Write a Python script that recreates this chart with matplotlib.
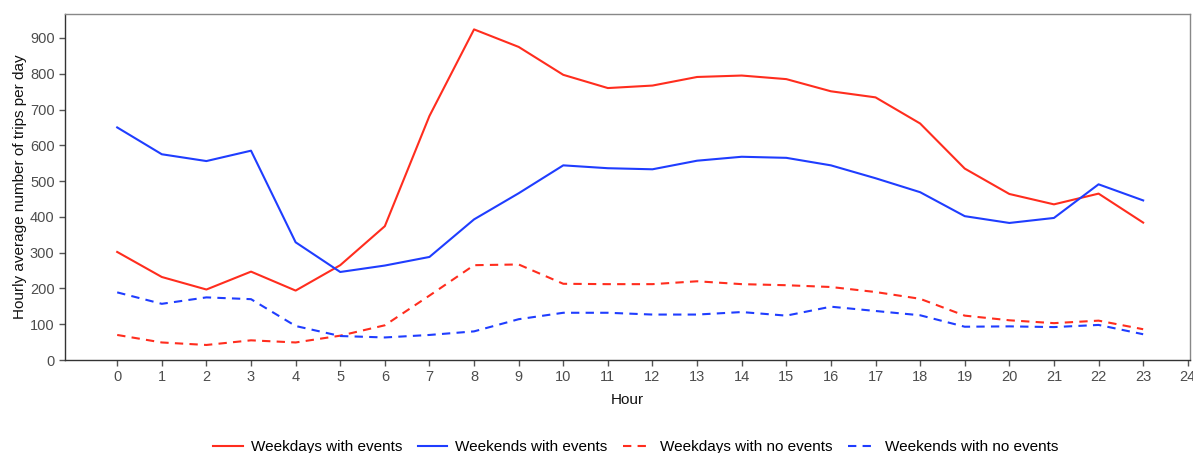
import matplotlib
matplotlib.use("Agg")
import matplotlib.pyplot as plt

hours = list(range(24))
weekdays_events = [302, 232, 197, 247, 194, 265, 374, 682, 924, 875, 797, 760,
                   767, 791, 795, 785, 751, 734, 661, 535, 464, 435, 465, 384]
weekends_events = [650, 575, 556, 585, 329, 246, 264, 288, 393, 466, 544, 536,
                   533, 557, 568, 565, 544, 508, 469, 402, 383, 397, 491, 446]
weekdays_noevents = [70, 49, 42, 55, 49, 68, 97, 180, 265, 267, 213, 212,
                     212, 220, 212, 209, 204, 190, 171, 124, 111, 103, 110, 86]
weekends_noevents = [189, 157, 175, 170, 95, 67, 63, 70, 80, 114, 132, 132,
                     127, 127, 134, 124, 149, 137, 125, 93, 94, 92, 98, 72]
labels = ["Weekdays with events", "Weekends with events",
          "Weekdays with no events", "Weekends with no events"]
xticks = list(range(25))
yticks = list(range(0, 1000, 100))

plt.rcParams['font.family'] = ['Liberation Sans', 'DejaVu Sans']

RED = '#ff2d1e'
BLUE = '#1f3dff'
fig = plt.figure(figsize=(11.93, 4.53), dpi=100)
ax = fig.add_axes([65/1193, 1-360/453, (1190-65)/1193, (360-14)/453])

ax.plot(hours, weekdays_events, color=RED, lw=1.5, label=labels[0])
ax.plot(hours, weekends_events, color=BLUE, lw=1.5, label=labels[1])
ax.plot(hours, weekdays_noevents, color=RED, lw=1.5, ls=(0, (4, 3)), label=labels[2])
ax.plot(hours, weekends_noevents, color=BLUE, lw=1.5, ls=(0, (4, 3)), label=labels[3])

ax.set_xlim(-1.17, 24.05)
ax.set_ylim(0, 967)
ax.set_xticks(xticks)
ax.set_yticks(yticks)
ax.tick_params(axis='both', direction='out', length=4, width=1, colors='#555555',
               labelsize=10.5, labelcolor='#4d4d4d')
for s in ['left', 'bottom']:
    ax.spines[s].set_color('#333333')
    ax.spines[s].set_linewidth(1.0)
for s in ['top', 'right']:
    ax.spines[s].set_color('#888888')
    ax.spines[s].set_linewidth(1.0)

ax.set_xlabel("Hour", fontsize=11, color='#111111', labelpad=6)
ax.set_ylabel("Hourly average number of trips per day", fontsize=11, color='#111111', labelpad=2)

fig.legend(loc='center', bbox_to_anchor=(636/1193, 1-447/453), ncol=4, frameon=False,
           fontsize=11, handlelength=1.9, columnspacing=1.0, handletextpad=0.55)

fig.savefig("out.png", dpi=100)
